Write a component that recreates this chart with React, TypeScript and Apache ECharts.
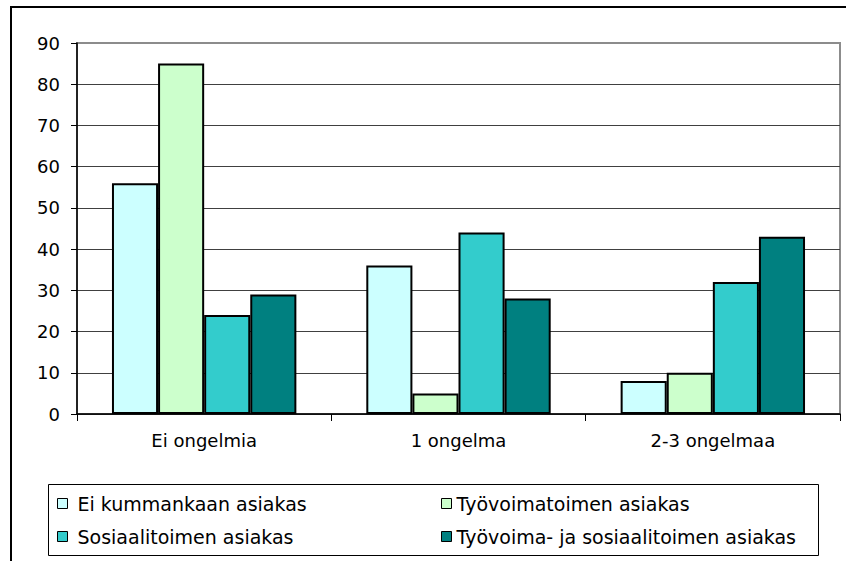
import React, { useEffect, useRef } from "react";
import * as echarts from "echarts";

const categories = ["Ei ongelmia", "1 ongelma", "2-3 ongelmaa"];
const seriesNames = [
  "Ei kummankaan asiakas",
  "Työvoimatoimen asiakas",
  "Sosiaalitoimen asiakas",
  "Työvoima- ja sosiaalitoimen asiakas",
];
const eiKummankaan = [56, 36, 8];
const tyovoimatoimen = [85, 5, 10];
const sosiaalitoimen = [24, 44, 32];
const molemmat = [29, 28, 43];
const seriesColors = ["#CCFFFF", "#CCFFCC", "#33CCCC", "#008080"];
const yTicks = { min: 0, max: 90, interval: 10 };

const FONT = "DejaVu Sans";

export default function App() {
  const ref = useRef<HTMLDivElement>(null);
  useEffect(() => {
    const chart = echarts.init(ref.current!, null, { renderer: "svg" });
    const values = [eiKummankaan, tyovoimatoimen, sosiaalitoimen, molemmat];
    const splitColors: string[] = [];
    for (let v = yTicks.min; v <= yTicks.max; v += yTicks.interval) {
      splitColors.push(v === yTicks.max ? "#8c8c8c" : "#404040");
    }
    const legendBase = {
      orient: "vertical",
      top: 494,
      padding: 0,
      itemWidth: 10,
      itemHeight: 10,
      itemGap: 14,
      icon: "rect",
      itemStyle: { borderColor: "#000", borderWidth: 1 },
    };
    chart.setOption({
      animation: false,
      backgroundColor: "#ffffff",
      grid: {
        left: 77,
        top: 43,
        right: 6,
        bottom: 147,
        show: true,
        borderColor: "#8c8c8c",
        borderWidth: 2,
      },
      xAxis: {
        type: "category",
        data: categories,
        axisLine: { lineStyle: { color: "#000", width: 1.5 } },
        axisTick: { show: true, length: 7, lineStyle: { color: "#000", width: 1 } },
        axisLabel: { color: "#000", fontSize: 18, fontFamily: FONT, margin: 17 },
        splitLine: { show: false },
      },
      yAxis: {
        type: "value",
        min: yTicks.min,
        max: yTicks.max,
        interval: yTicks.interval,
        axisLine: { show: true, lineStyle: { color: "#000", width: 1.5 } },
        axisTick: { show: true, length: 6, lineStyle: { color: "#000", width: 1 } },
        axisLabel: { color: "#000", fontSize: 18, fontFamily: FONT, margin: 17 },
        splitLine: { show: true, lineStyle: { color: splitColors, width: 1 } },
      },
      legend: [
        {
          ...legendBase,
          data: [seriesNames[0], seriesNames[2]],
          left: 57,
          textStyle: { color: "#000", fontSize: 19, fontFamily: FONT, padding: [0, 0, 0, 5] },
        },
        {
          ...legendBase,
          data: [seriesNames[1], seriesNames[3]],
          left: 441,
          textStyle: { color: "#000", fontSize: 19, fontFamily: FONT, padding: 0 },
        },
      ],
      graphic: [
        {
          type: "rect",
          shape: { x: 11, y: 7, width: 860, height: 600 },
          style: { fill: "none", stroke: "#000", lineWidth: 2 },
          silent: true,
          z: -1,
        },
        {
          type: "rect",
          shape: { x: 48.5, y: 484.5, width: 770, height: 71 },
          style: { fill: "none", stroke: "#000", lineWidth: 1 },
          silent: true,
        },
      ],
      series: seriesNames.map((name, i) => ({
        name,
        type: "bar",
        data: values[i],
        barGap: "0%",
        barCategoryGap: "27.5%",
        itemStyle: { color: seriesColors[i], borderColor: "#000", borderWidth: 2 },
      })),
    });
    return () => chart.dispose();
  }, []);
  return (
    <div
      ref={ref}
      style={{ position: "fixed", left: 0, top: 0, width: 846, height: 561, background: "#fff" }}
    />
  );
}
